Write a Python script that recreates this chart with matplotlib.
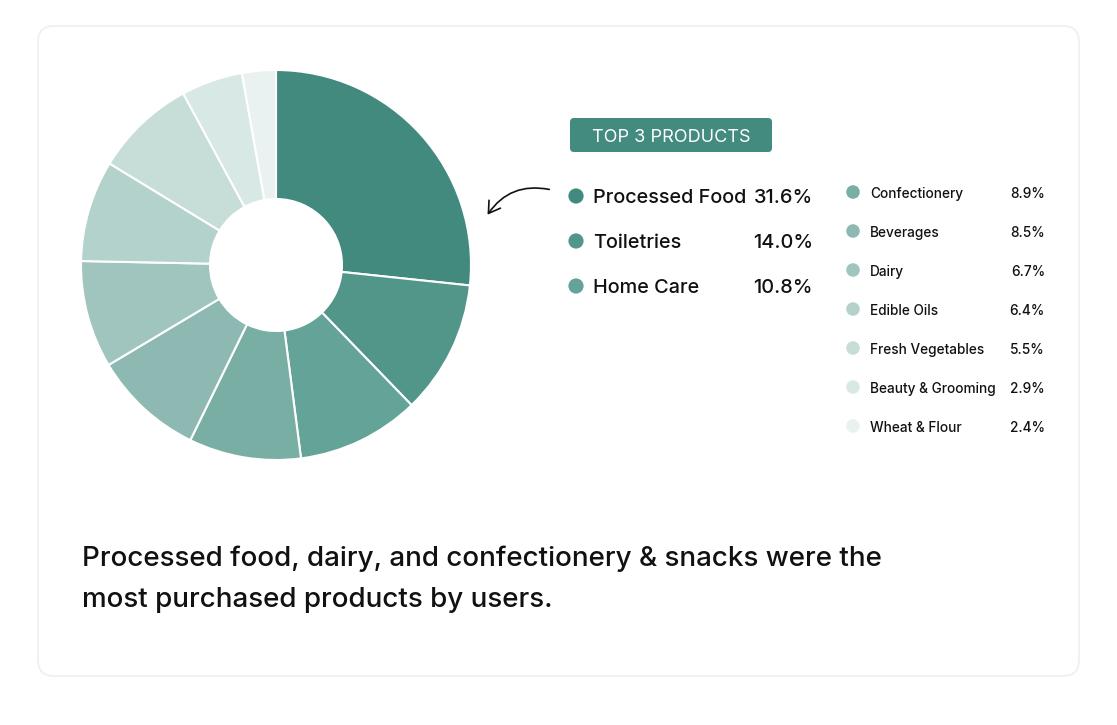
import matplotlib
matplotlib.use("Agg")
import matplotlib.pyplot as plt
import matplotlib.patches as p

plt.rcParams['font.family'] = ['Inter', 'DejaVu Sans']
plt.rcParams['font.weight'] = 'medium'

# data
categories = ["Processed Food", "Toiletries", "Home Care", "Confectionery", "Beverages",
              "Dairy", "Edible Oils", "Fresh Vegetables", "Beauty & Grooming", "Wheat & Flour"]
shares = [31.6, 14.0, 10.8, 8.9, 8.5, 6.7, 6.4, 5.5, 2.9, 2.4]  # as printed in the legend
slice_share = [26.7, 11.1, 10.2, 9.3, 9.2, 8.9, 8.4, 8.4, 5.1, 2.8]  # slice sizes as drawn
colors = ["#428a7e", "#52968a", "#64a398", "#79aea5", "#8db9b2",
          "#a0c5bf", "#b4d2cc", "#c6ddd8", "#d8e8e5", "#eaf2f1"]
badge_text = "TOP 3 PRODUCTS"
caption = ["Processed food, dairy, and confectionery & snacks were the",
           "most purchased products by users."]

W, H = 1117, 725


def Y(y):
    # image pixel row -> axes y
    return H - y


fig = plt.figure(figsize=(W / 100, H / 100), dpi=100)
fig.patch.set_facecolor("white")
ax = fig.add_axes([0, 0, 1, 1])

# card
card = p.FancyBboxPatch((52, Y(662)), 1013, 622, boxstyle="round,pad=14,rounding_size=16",
                        fc="white", ec="#efefef", lw=1.2, zorder=0)
ax.add_patch(card)

# donut
ax.pie(slice_share, center=(276, Y(265)), radius=195, startangle=90, counterclock=False,
       colors=colors, wedgeprops=dict(width=129, edgecolor="white", linewidth=1.5))

# arrow pointing to the big slice
arr = p.FancyArrowPatch((552, Y(190)), (486, Y(217)), connectionstyle="arc3,rad=0.35",
                        arrowstyle="->,head_length=8,head_width=5", color="#111111", lw=1.2)
ax.add_patch(arr)

# badge
badge = p.FancyBboxPatch((574, Y(148)), 194, 26, boxstyle="round,pad=4,rounding_size=4",
                         fc="#438b7f", ec="none")
ax.add_patch(badge)
ax.text(671, Y(135), badge_text, color="white", fontsize=13, ha="center",
        va="center_baseline", fontweight="normal")

# top 3 list
for i in range(3):
    yy = Y(196 + 45 * i)
    ax.scatter(576, yy, s=120, color=colors[i], edgecolors="none")
    ax.text(593, yy, categories[i], fontsize=14.3, color="#111111", va="center_baseline")
    ax.text(813, yy, "%.1f%%" % shares[i], fontsize=14.3, color="#111111",
            va="center_baseline", ha="right")

# remaining items
for j in range(3, len(categories)):
    yy = Y(192 + 39 * (j - 3))
    ax.scatter(853, yy, s=95, color=colors[j], edgecolors="none")
    ax.text(870, yy, categories[j], fontsize=9.8, color="#111111", va="center_baseline")
    ax.text(1045, yy, "%.1f%%" % shares[j], fontsize=9.8, color="#111111",
            va="center_baseline", ha="right")

# caption
ax.text(82, Y(556), caption[0], fontsize=20, color="#111111", va="center_baseline")
ax.text(82, Y(597), caption[1], fontsize=20, color="#111111", va="center_baseline")

ax.set_xlim(0, W)
ax.set_ylim(0, H)
ax.set_aspect("equal")
ax.axis("off")

fig.savefig("out.png", dpi=100, facecolor="white")
